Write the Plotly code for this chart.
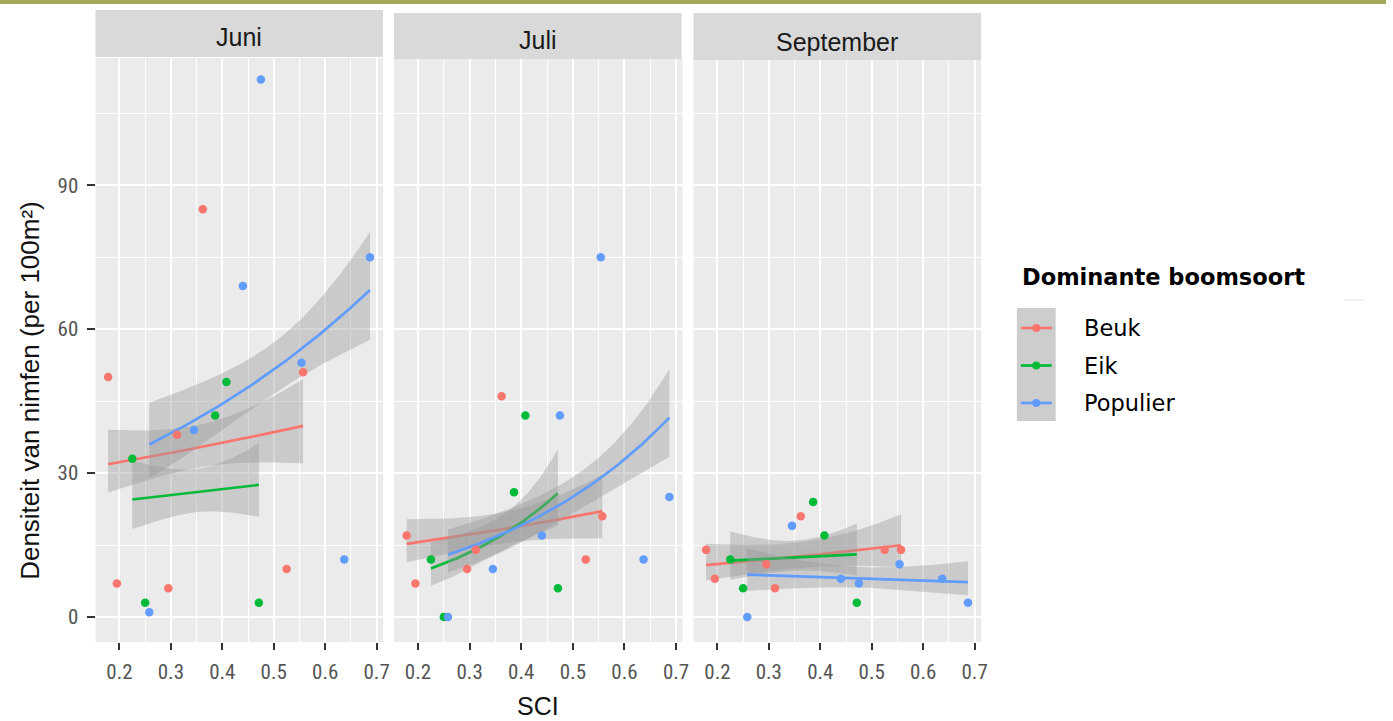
import numpy as np
import plotly.graph_objects as go

W, H = 1393, 721

months = ["Juni", "Juli", "September"]
species = ["Beuk", "Eik", "Populier"]
colors = ["#F8766D", "#00BA38", "#619CFF"]

# SCI of the sampled stands per dominant tree species
sci_beuk = [0.178, 0.195, 0.295, 0.312, 0.362, 0.525, 0.557]
sci_eik = [0.225, 0.250, 0.386, 0.408, 0.471]
sci_populier = [0.258, 0.345, 0.440, 0.475, 0.554, 0.637, 0.687]

# nymph density (per 100 m2) per month
beuk_juni = [50, 7, 6, 38, 85, 10, 51]
beuk_juli = [17, 7, 10, 14, 46, 12, 21]
beuk_september = [14, 8, 11, 6, 21, 14, 14]

eik_juni = [33, 3, 42, 49, 3]
eik_juli = [12, 0, 26, 42, 6]
eik_september = [12, 6, 24, 17, 3]

populier_juni = [1, 39, 69, 112, 53, 12, 75]
populier_juli = [0, 10, 17, 42, 75, 12, 25]
populier_september = [0, 19, 8, 7, 11, 8, 3]

x_ticks = [0.2, 0.3, 0.4, 0.5, 0.6, 0.7]
y_ticks = [0, 30, 60, 90]

sci = {"Beuk": sci_beuk, "Eik": sci_eik, "Populier": sci_populier}
dens = {
    ("Juni", "Beuk"): beuk_juni, ("Juli", "Beuk"): beuk_juli, ("September", "Beuk"): beuk_september,
    ("Juni", "Eik"): eik_juni, ("Juli", "Eik"): eik_juli, ("September", "Eik"): eik_september,
    ("Juni", "Populier"): populier_juni, ("Juli", "Populier"): populier_juli,
    ("September", "Populier"): populier_september,
}


def poisson_smooth(x, y, n=80, z=1.959964):
    """Poisson GLM (log link) fitted by IRLS; returns prediction grid with 95% band."""
    x = np.asarray(x, float)
    y = np.asarray(y, float)
    X = np.column_stack([np.ones_like(x), x])
    mu = y + 0.1
    eta = np.log(mu)
    for _ in range(100):
        zz = eta + (y - mu) / mu
        w = mu
        XtW = X.T * w
        beta = np.linalg.solve(XtW @ X, XtW @ zz)
        eta_new = X @ beta
        if np.max(np.abs(eta_new - eta)) < 1e-10:
            eta = eta_new
            mu = np.exp(eta)
            break
        eta = eta_new
        mu = np.exp(eta)
    cov = np.linalg.inv((X.T * mu) @ X)
    xs = np.linspace(x.min(), x.max(), n)
    Xs = np.column_stack([np.ones_like(xs), xs])
    fit = Xs @ beta
    se = np.sqrt(np.einsum("ij,jk,ik->i", Xs, cov, Xs))
    return xs, np.exp(fit), np.exp(fit - z * se), np.exp(fit + z * se)


def px(v):
    return v / W


def py(v):
    return 1 - v / H


# panel geometry (pixels)
panel_x = [(96, 385), (396, 686), (697, 986)]
panel_top, panel_bottom = 58, 642
strip_boxes = [(96, 385, 10, 57), (396, 685, 13, 59), (697, 986, 13, 60)]
strip_text_y = [37, 40, 42]

fig = go.Figure()

axis_ids = ["", "2", "3"]
for m, month in enumerate(months):
    xa = "x" + axis_ids[m]
    ya = "y" + axis_ids[m]
    # smoothers: ribbon then line for each species
    for s, sp in enumerate(species):
        xs, fit, lo, hi = poisson_smooth(sci[sp], dens[(month, sp)])
        fig.add_trace(go.Scatter(
            x=np.concatenate([xs, xs[::-1]]), y=np.concatenate([hi, lo[::-1]]),
            fill="toself", fillcolor="rgba(153,153,153,0.4)", line=dict(width=0),
            mode="lines", hoverinfo="skip", showlegend=False, xaxis=xa, yaxis=ya))
        fig.add_trace(go.Scatter(
            x=xs, y=fit, mode="lines", line=dict(color=colors[s], width=2.7),
            showlegend=False, xaxis=xa, yaxis=ya, name=sp))
    for s, sp in enumerate(species):
        fig.add_trace(go.Scatter(
            x=sci[sp], y=dens[(month, sp)], mode="markers",
            marker=dict(color=colors[s], size=8.5, line=dict(width=0)),
            showlegend=False, xaxis=xa, yaxis=ya, name=sp))

tick_font = dict(family="Liberation Sans Narrow, Arial Narrow, Roboto Condensed, Liberation Sans, sans-serif",
                 size=21, color="#555555")

layout = dict(
    width=W, height=H,
    margin=dict(l=0, r=0, t=0, b=0),
    paper_bgcolor="white", plot_bgcolor="#EBEBEB",
    showlegend=False,
)
for m in range(3):
    x0, x1 = panel_x[m]
    layout["xaxis" + axis_ids[m]] = dict(
        domain=[px(x0), px(x1)], range=[0.1535, 0.7125], anchor="y" + axis_ids[m],
        tickvals=x_ticks, ticktext=[f"{v:.1f}" for v in x_ticks],
        ticks="outside", ticklen=7, tickwidth=1.5, tickcolor="#333333",
        ticklabelstandoff=4, tickfont=tick_font,
        showgrid=True, gridcolor="white", gridwidth=2,
        minor=dict(tickvals=[0.15, 0.25, 0.35, 0.45, 0.55, 0.65], showgrid=True,
                   gridcolor="white", gridwidth=1.2, ticks=""),
        zeroline=False, showline=False, fixedrange=True,
    )
    yax = dict(
        domain=[py(panel_bottom), py(panel_top)], range=[-5.2, 116.5],
        anchor="x" + axis_ids[m], tickvals=y_ticks,
        showgrid=True, gridcolor="white", gridwidth=2,
        minor=dict(tickvals=[15, 45, 75, 105], showgrid=True, gridcolor="white",
                   gridwidth=1.2, ticks=""),
        zeroline=False, showline=False, fixedrange=True,
    )
    if m == 0:
        yax.update(ticks="outside", ticklen=8, tickwidth=1.5, tickcolor="#333333",
                   ticklabelstandoff=4, tickfont=tick_font)
    else:
        yax.update(matches="y", showticklabels=False, ticks="")
    layout["yaxis" + axis_ids[m]] = yax

shapes = []
annotations = []

# olive rule along the top edge
shapes.append(dict(type="rect", xref="paper", yref="paper", x0=0, x1=1, y0=py(4), y1=1,
                   fillcolor="#A4A85B", line=dict(width=0), layer="above"))

# facet strips
for (sx0, sx1, sy0, sy1), month, ty in zip(strip_boxes, months, strip_text_y):
    shapes.append(dict(type="rect", xref="paper", yref="paper", x0=px(sx0), x1=px(sx1),
                       y0=py(sy1), y1=py(sy0), fillcolor="#D9D9D9", line=dict(width=0)))
    annotations.append(dict(text=month, xref="paper", yref="paper", x=px((sx0 + sx1) / 2),
                            y=py(ty), xanchor="center", yanchor="middle", showarrow=False,
                            font=dict(family="Liberation Sans, Arial, sans-serif", size=25,
                                      color="#1A1A1A")))

# axis titles
annotations.append(dict(text="Densiteit van nimfen (per 100m²)", xref="paper", yref="paper",
                        x=px(30), y=py(390), textangle=-90, xanchor="center", yanchor="middle",
                        showarrow=False,
                        font=dict(family="Liberation Sans, Arial, sans-serif", size=26,
                                  color="#111111")))
annotations.append(dict(text="SCI", xref="paper", yref="paper", x=px(541), y=0,
                        xanchor="center", yanchor="bottom", showarrow=False, borderpad=0,
                        font=dict(family="Liberation Sans, Arial, sans-serif", size=25,
                                  color="#111111")))

# legend
annotations.append(dict(text="<b>Dominante boomsoort</b>", xref="paper", yref="paper",
                        x=px(1025), y=py(277), xanchor="left", yanchor="middle", showarrow=False,
                        font=dict(family="DejaVu Sans, Verdana, sans-serif", size=22.5,
                                  color="#000000")))
shapes.append(dict(type="rect", xref="paper", yref="paper", x0=px(1022), x1=px(1061),
                   y0=py(421), y1=py(308), fillcolor="#CDCDCD", line=dict(width=0)))
key_y = [328, 365.5, 403]
for sp, col, ky in zip(species, colors, key_y):
    shapes.append(dict(type="line", xref="paper", yref="paper", x0=px(1026), x1=px(1057),
                       y0=py(ky), y1=py(ky), line=dict(color=col, width=2.7)))
    shapes.append(dict(type="circle", xref="paper", yref="paper", xsizemode="pixel",
                       ysizemode="pixel", xanchor=px(1041.5), yanchor=py(ky),
                       x0=-4, x1=4, y0=-4, y1=4, fillcolor=col, line=dict(width=0)))
    annotations.append(dict(text=sp, xref="paper", yref="paper", x=px(1087), y=py(ky),
                            xanchor="left", yanchor="middle", showarrow=False,
                            font=dict(family="DejaVu Sans, Verdana, sans-serif", size=22.5,
                                      color="#000000")))

# faint rule to the right of the legend
shapes.append(dict(type="line", xref="paper", yref="paper", x0=px(1351), x1=px(1371),
                   y0=py(300), y1=py(300), line=dict(color="#EAEAEA", width=1.5)))

layout["shapes"] = shapes
layout["annotations"] = annotations
fig.update_layout(**layout)

fig.write_html("out.html")
